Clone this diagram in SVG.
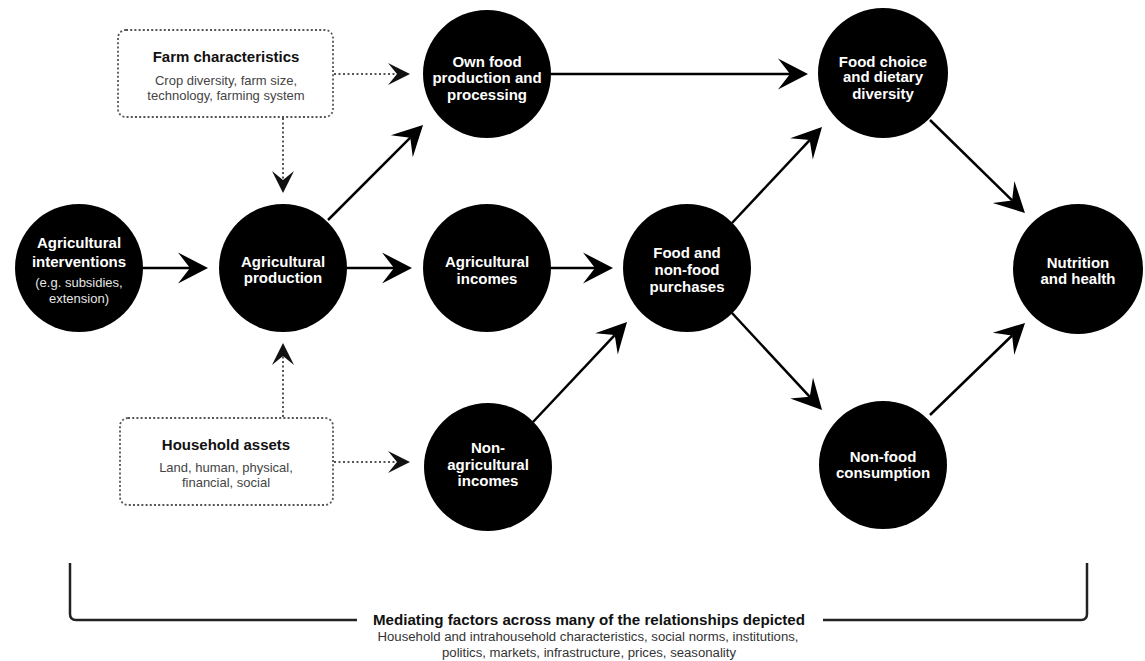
<svg xmlns="http://www.w3.org/2000/svg" width="1145" height="661" viewBox="0 0 1145 661">
<style>
.node{fill:#000}
.t{font-family:"Liberation Sans",Arial,sans-serif;font-weight:bold;font-size:15px;fill:#fff;text-anchor:middle}
.ts{font-family:"Liberation Sans",Arial,sans-serif;font-size:13px;fill:#e6e6e6;text-anchor:middle}
.box{fill:#fff;stroke:#555;stroke-width:1.8;stroke-dasharray:2 2.2}
.bt{font-family:"Liberation Sans",Arial,sans-serif;font-weight:bold;font-size:15px;fill:#111;text-anchor:middle}
.bs{font-family:"Liberation Sans",Arial,sans-serif;font-size:13px;fill:#444;text-anchor:middle}
.solid{stroke:#000;stroke-width:2.5;fill:none;marker-end:url(#ah)}
.dot{stroke:#555;stroke-width:2;stroke-dasharray:2 2.5;fill:none;marker-end:url(#ahd)}
.br{stroke:#222;stroke-width:2.5;fill:none}
.mt{font-family:"Liberation Sans",Arial,sans-serif;font-weight:bold;font-size:14px;fill:#111;text-anchor:middle}
.ms{font-family:"Liberation Sans",Arial,sans-serif;font-size:12px;fill:#333;text-anchor:middle}
</style>
<defs>
<marker id="ah" viewBox="-13 -16 32 32" markerWidth="32" markerHeight="32" refX="0" refY="0" orient="auto" markerUnits="userSpaceOnUse">
<path d="M18,0 L-12,-15.5 L0,0 L-12,15.5 Z" fill="#000"/>
</marker>
<marker id="ahd" viewBox="-10 -12 24 24" markerWidth="24" markerHeight="24" refX="0" refY="0" orient="auto" markerUnits="userSpaceOnUse">
<path d="M13,0 L-9,-11 L0,0 L-9,11 Z" fill="#111"/>
</marker>
</defs>
<rect width="1145" height="661" fill="#fff"/>

<g id="connectors">
<line class="solid" x1="143" y1="268" x2="190" y2="268"/>
<line class="solid" x1="347" y1="268" x2="394" y2="268"/>
<line class="solid" x1="551" y1="268" x2="595" y2="268"/>
<line class="solid" x1="551" y1="74" x2="790" y2="74"/>
<line class="solid" x1="328" y1="220" x2="410.3" y2="137.7"/>
<line class="solid" x1="533" y1="422" x2="614.7" y2="335.1"/>
<line class="solid" x1="732" y1="223" x2="809.7" y2="140.1"/>
<line class="solid" x1="732" y1="313" x2="809.8" y2="396.8"/>
<line class="solid" x1="930" y1="120" x2="1012.1" y2="200.4"/>
<line class="solid" x1="930" y1="415" x2="1012.1" y2="335.5"/>
<line class="dot" x1="334" y1="74" x2="397" y2="74"/>
<line class="dot" x1="283" y1="118" x2="283" y2="180"/>
<line class="dot" x1="283" y1="417" x2="283" y2="356"/>
<line class="dot" x1="334" y1="462" x2="397" y2="462"/>
</g>

<g id="farm-characteristics">
<rect class="box" x="118" y="30" width="215" height="87" rx="8"/>
<text class="bt" x="226" y="62">Farm characteristics</text>
<text class="bs" x="226" y="85">Crop diversity, farm size,</text>
<text class="bs" x="226" y="100">technology, farming system</text>
</g>

<g id="household-assets">
<rect class="box" x="120" y="418" width="213" height="87" rx="8"/>
<text class="bt" x="226" y="450">Household assets</text>
<text class="bs" x="226" y="472">Land, human, physical,</text>
<text class="bs" x="226" y="487">financial, social</text>
</g>

<g id="agricultural-interventions">
<circle class="node" cx="79" cy="268" r="64"/>
<text class="t" x="79" y="248">Agricultural</text>
<text class="t" x="79" y="267">interventions</text>
<text class="ts" x="79" y="287">(e.g. subsidies,</text>
<text class="ts" x="79" y="303">extension)</text>
</g>

<g id="agricultural-production">
<circle class="node" cx="283" cy="268" r="64"/>
<text class="t" x="283" y="267">Agricultural</text>
<text class="t" x="283" y="283">production</text>
</g>

<g id="own-food-production">
<circle class="node" cx="487" cy="74" r="64"/>
<text class="t" x="487" y="67">Own food</text>
<text class="t" x="487" y="83">production and</text>
<text class="t" x="487" y="100">processing</text>
</g>

<g id="agricultural-incomes">
<circle class="node" cx="487" cy="268" r="64"/>
<text class="t" x="487" y="267">Agricultural</text>
<text class="t" x="487" y="284">incomes</text>
</g>

<g id="non-agricultural-incomes">
<circle class="node" cx="488" cy="467" r="64"/>
<text class="t" x="488" y="453">Non-</text>
<text class="t" x="488" y="470">agricultural</text>
<text class="t" x="488" y="486">incomes</text>
</g>

<g id="food-purchases">
<circle class="node" cx="687" cy="268" r="64"/>
<text class="t" x="687" y="258">Food and</text>
<text class="t" x="687" y="275">non-food</text>
<text class="t" x="687" y="292">purchases</text>
</g>

<g id="food-choice">
<circle class="node" cx="883" cy="73" r="65"/>
<text class="t" x="883" y="67">Food choice</text>
<text class="t" x="883" y="82">and dietary</text>
<text class="t" x="883" y="99">diversity</text>
</g>

<g id="non-food-consumption">
<circle class="node" cx="883" cy="465" r="64"/>
<text class="t" x="883" y="462">Non-food</text>
<text class="t" x="883" y="478">consumption</text>
</g>

<g id="nutrition-health">
<circle class="node" cx="1078" cy="269" r="65"/>
<text class="t" x="1078" y="268">Nutrition</text>
<text class="t" x="1078" y="284">and health</text>
</g>

<g id="mediating-factors">
<path class="br" d="M70,563 L70,614 Q70,620 76,620 L357,620"/>
<path class="br" d="M823,620 L1081,620 Q1087,620 1087,614 L1087,563"/>
<text class="mt" x="589" y="625" textLength="432" lengthAdjust="spacingAndGlyphs">Mediating factors across many of the relationships depicted</text>
<text class="ms" x="588" y="641" textLength="421" lengthAdjust="spacingAndGlyphs">Household and intrahousehold characteristics, social norms, institutions,</text>
<text class="ms" x="589" y="657" textLength="294" lengthAdjust="spacingAndGlyphs">politics, markets, infrastructure, prices, seasonality</text>
</g>
</svg>
